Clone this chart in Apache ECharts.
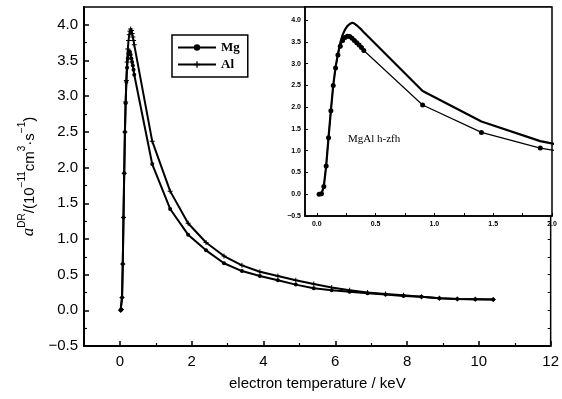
<!DOCTYPE html>
<html><head><meta charset="utf-8">
<script src="https://cdn.jsdelivr.net/npm/echarts@6/dist/echarts.min.js"></script>
<style>html,body{margin:0;padding:0;background:#fff}#c{width:562px;height:399px}</style>
</head><body><div id="c"></div>
<script>
// electron temperature (keV)
const temps = [0.02,0.04,0.06,0.08,0.10,0.12,0.14,0.16,0.18,0.20,0.22,0.24,0.26,0.28,0.30,0.32,0.34,0.36,0.38,0.40,
  0.9,1.4,1.9,2.4,2.9,3.4,3.9,4.4,4.9,5.4,5.9,6.4,6.9,7.4,7.9,8.4,8.9,9.4,9.9,10.4];
// alpha DR (1e-11 cm^3 s^-1)
const mgValues = [0.00,0.01,0.18,0.65,1.30,1.92,2.50,2.90,3.20,3.40,3.53,3.60,3.63,3.62,3.58,3.53,3.48,3.43,3.37,3.30,
  2.05,1.42,1.06,0.84,0.66,0.55,0.48,0.42,0.36,0.31,0.28,0.26,0.24,0.22,0.20,0.19,0.17,0.16,0.155,0.15];
const alValues = [0.00,0.01,0.18,0.65,1.30,1.92,2.50,2.92,3.22,3.48,3.66,3.78,3.86,3.91,3.94,3.92,3.88,3.83,3.78,3.72,
  2.37,1.67,1.22,0.95,0.76,0.63,0.54,0.48,0.42,0.37,0.32,0.28,0.25,0.23,0.21,0.19,0.17,0.16,0.155,0.15];
// tick labels
const mainXTicks = [0,2,4,6,8,10,12];
const mainXMinor = [1,3,5,7,9,11];
const mainYTicks = [-0.5,0,0.5,1,1.5,2,2.5,3,3.5,4];
const mainYMinor = [-0.25,0.25,0.75,1.25,1.75,2.25,2.75,3.25,3.75];
const insetXTicks = [0,0.5,1,1.5,2];
const insetXMinor = [0.25,0.75,1.25,1.75];
const insetYTicks = [-0.5,0,0.5,1,1.5,2,2.5,3,3.5,4];
const seriesNames = ['Mg','Al'];
const insetLabel = 'MgAl h-zfh';

const mg = temps.map((t,i)=>[t,mgValues[i]]);
const al = temps.map((t,i)=>[t,alValues[i]]);
const F = 'Liberation Sans';
const fmt1 = v => v.toFixed(1).replace('-', '\u2212');
const plus = 'path://M0,4h10v2h-10zM4,0h2v10h-2z';

const chart = echarts.init(document.getElementById('c'), null, {renderer:'canvas'});
chart.setOption({
  backgroundColor:'#fff',
  animation:false,
  grid:[
    {left:84, top:7, width:468, height:339, show:true, borderColor:'#000', borderWidth:1.5, backgroundColor:'transparent'},
    {left:305, top:7, width:247, height:209, show:true, borderColor:'#000', borderWidth:1.5, backgroundColor:'#fff', z:5}
  ],
  legend:{
    data:seriesNames, orient:'vertical', left:172, top:35, itemWidth:38, itemHeight:8, itemGap:4,
    borderColor:'#000', borderWidth:1.5, padding:[6,8,6,5], z:10,
    textStyle:{fontSize:13, fontFamily:'Liberation Serif', fontWeight:'bold', color:'#000'}
  },
  xAxis:[
    {gridIndex:0, type:'value', position:'bottom', min:-1, max:12,
     axisLine:{onZero:false, lineStyle:{color:'#000', width:2}},
     axisTick:{inside:true, length:5, customValues:mainXTicks, lineStyle:{color:'#000', width:1.5}},
     axisLabel:{customValues:mainXTicks, fontSize:15, fontFamily:F, color:'#000', margin:8},
     splitLine:{show:false},
     name:'electron temperature / keV', nameLocation:'middle', nameGap:30,
     nameTextStyle:{fontSize:15, fontFamily:F, color:'#000'}},
    {gridIndex:0, type:'value', position:'bottom', min:-1, max:12,
     axisLine:{show:false, onZero:false},
     axisTick:{inside:true, length:3, customValues:mainXMinor, lineStyle:{color:'#000', width:1.2}},
     axisLabel:{show:false}, splitLine:{show:false}},
    {gridIndex:1, type:'value', position:'bottom', min:-0.1, max:2,
     axisLine:{onZero:false, lineStyle:{color:'#000', width:1.5}},
     axisTick:{inside:true, length:3, customValues:insetXTicks.concat(insetXMinor), lineStyle:{color:'#000'}},
     axisLabel:{customValues:insetXTicks, formatter:fmt1, fontSize:7, fontWeight:'bold', fontFamily:F, color:'#000', margin:5},
     splitLine:{show:false}, z:6}
  ],
  yAxis:[
    {gridIndex:0, type:'value', position:'left', min:-0.5, max:4.25,
     axisLine:{onZero:false, lineStyle:{color:'#000', width:2}},
     axisTick:{inside:true, length:5, customValues:mainYTicks, lineStyle:{color:'#000', width:1.5}},
     axisLabel:{customValues:mainYTicks, formatter:fmt1, fontSize:15, fontFamily:F, color:'#000', margin:6},
     splitLine:{show:false},
     name:'{it|a}{sup|DR}{n|/(10}{sup|\u221211}{n|cm}{sup|3}{n|\u00b7s}{sup|\u22121}{n|)}',
     nameLocation:'middle', nameGap:44, nameRotate:90,
     nameTextStyle:{rich:{
       n:{fontSize:15, fontFamily:F, color:'#000', lineHeight:20, verticalAlign:'bottom'},
       it:{fontSize:17, fontStyle:'italic', fontFamily:'Liberation Serif', color:'#000', lineHeight:20, verticalAlign:'bottom'},
       sup:{fontSize:10, fontFamily:F, color:'#000', lineHeight:20, verticalAlign:'top'}
     }}},
    {gridIndex:0, type:'value', position:'left', min:-0.5, max:4.25,
     axisLine:{show:false, onZero:false},
     axisTick:{inside:true, length:3, customValues:mainYMinor, lineStyle:{color:'#000', width:1.2}},
     axisLabel:{show:false}, splitLine:{show:false}},
    {gridIndex:0, type:'value', position:'right', min:-0.5, max:4.25,
     axisLine:{show:false, onZero:false},
     axisTick:{inside:true, length:3, customValues:mainYTicks.concat(mainYMinor), lineStyle:{color:'#000'}},
     axisLabel:{show:false}, splitLine:{show:false}},
    {gridIndex:1, type:'value', position:'left', min:-0.5, max:4.3,
     axisLine:{onZero:false, lineStyle:{color:'#000', width:1.5}},
     axisTick:{inside:true, length:3, customValues:insetYTicks, lineStyle:{color:'#000'}},
     axisLabel:{customValues:insetYTicks, formatter:fmt1, fontSize:7, fontWeight:'bold', fontFamily:F, color:'#000', margin:4},
     splitLine:{show:false}, z:6}
  ],
  graphic:[{type:'text', left:348, top:134, z:20,
    style:{text:insetLabel, font:'11px "Liberation Serif"', fill:'#000'}}],
  series:[
    {name:'Mg', type:'line', xAxisIndex:0, yAxisIndex:0, data:mg, symbol:'circle', symbolSize:4,
     itemStyle:{color:'#000'}, lineStyle:{color:'#000', width:2}, z:3},
    {name:'Al', type:'line', xAxisIndex:0, yAxisIndex:0, data:al, symbol:plus, symbolSize:5,
     itemStyle:{color:'#000'}, lineStyle:{color:'#000', width:2}, z:3},
    {name:'Mg', type:'line', xAxisIndex:2, yAxisIndex:3, data:mg, symbol:'circle', symbolSize:5, clip:true,
     itemStyle:{color:'#000'}, lineStyle:{color:'#000', width:1.2}, z:8},
    {name:'Al', type:'line', xAxisIndex:2, yAxisIndex:3, data:al, symbol:'none', clip:true,
     itemStyle:{color:'#000'}, lineStyle:{color:'#000', width:2.2}, z:8}
  ]
});
</script></body></html>
